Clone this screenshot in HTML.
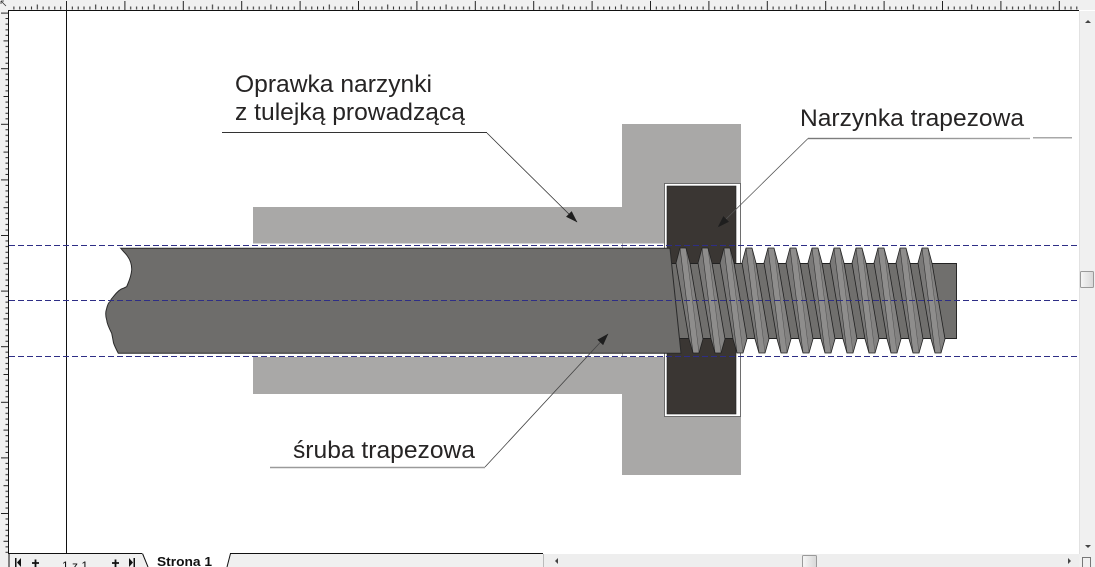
<!DOCTYPE html>
<html>
<head>
<meta charset="utf-8">
<style>
  html,body{margin:0;padding:0;background:#fff;}
  body{width:1095px;height:567px;overflow:hidden;}
  svg{display:block;}
</style>
</head>
<body>
<svg xmlns="http://www.w3.org/2000/svg" width="1095" height="567" viewBox="0 0 1095 567">
  <defs>
    <pattern id="hr" patternUnits="userSpaceOnUse" x="7.6" y="0" width="58.4" height="10">
      <path d="M0.5 1V10 M6.3 6.5V9.5 M12.2 6.5V9.5 M18 6.5V9.5 M23.9 6.5V9.5 M29.7 4.5V9.5 M35.5 6.5V9.5 M41.4 6.5V9.5 M47.2 6.5V9.5 M53.1 6.5V9.5" stroke="#222" stroke-width="1" fill="none"/>
    </pattern>
    <pattern id="vr" patternUnits="userSpaceOnUse" x="0" y="12.6" width="9" height="55.6">
      <path d="M1 0.5H9 M5.5 6H8.5 M5.5 11.6H8.5 M5.5 17.2H8.5 M5.5 22.7H8.5 M3.5 28.3H8.5 M5.5 33.9H8.5 M5.5 39.4H8.5 M5.5 45H8.5 M5.5 50.6H8.5" stroke="#222" stroke-width="1" fill="none"/>
    </pattern>
    <marker id="ah" viewBox="0 0 12 8" refX="11.5" refY="4" markerWidth="12" markerHeight="8" markerUnits="userSpaceOnUse" orient="auto">
      <path d="M0,0 L12,4 L0,8 z" fill="#1e1e1e"/>
    </marker>
    <linearGradient id="ul2" x1="0" y1="0" x2="1" y2="0">
      <stop offset="0" stop-color="#777"/>
      <stop offset="1" stop-color="#aaa"/>
    </linearGradient>
    <linearGradient id="thumb" x1="0" y1="0" x2="1" y2="0">
      <stop offset="0" stop-color="#f6f6f6"/>
      <stop offset="1" stop-color="#d8d8d8"/>
    </linearGradient>
    <g id="th">
      <polygon points="0,263 4,248 17,353 13,339" fill="#7a7978"/>
      <polygon points="4,248 10,248 23,353 17,353" fill="#8e8d8c"/>
      <polygon points="10,248 14,263 27,339 23,353" fill="#838281"/>
      <line x1="4" y1="248" x2="17" y2="353" stroke="#333" stroke-width="0.6"/>
      <line x1="10" y1="248" x2="23" y2="353" stroke="#444" stroke-width="0.4"/>
      <polygon points="0,263 4,248 10,248 14,263 27,339 23,353 17,353 13,339" fill="none" stroke="#222" stroke-width="0.8" stroke-linejoin="round"/>
    </g>
  </defs>

  <!-- background -->
  <rect x="0" y="0" width="1095" height="567" fill="#fff"/>

  <!-- top ruler -->
  <rect x="0" y="0" width="1095" height="10" fill="#f0f0f0"/>
  <rect x="9" y="0" width="1070" height="10" fill="url(#hr)"/>
  <line x1="0" y1="10.5" x2="1079" y2="10.5" stroke="#111" stroke-width="1"/>
  <!-- left ruler -->
  <rect x="0" y="0" width="9" height="567" fill="#f0f0f0"/>
  <rect x="0" y="11" width="9" height="542" fill="url(#vr)"/>
  <line x1="8.5" y1="10" x2="8.5" y2="567" stroke="#111" stroke-width="1"/>
  <path d="M1 1 L6 6 M1 1 H4 M1 1 V4" stroke="#333" stroke-width="0.8" fill="none"/>

  <!-- page border line -->
  <line x1="66.5" y1="11" x2="66.5" y2="554" stroke="#111" stroke-width="1"/>

  <!-- flange -->
  <rect x="622" y="124" width="119" height="351" fill="#a9a8a7"/>
  <!-- bore -->
  <rect x="622" y="243.5" width="42" height="113.5" fill="#fff"/>
  <line x1="622.5" y1="243.5" x2="622.5" y2="357" stroke="#999" stroke-width="0.8"/>
  <!-- bushings -->
  <rect x="253" y="207" width="369" height="36.5" fill="#a9a8a7"/>
  <rect x="253" y="357" width="369" height="37" fill="#a9a8a7"/>

  <!-- nut -->
  <rect x="664.5" y="183.5" width="76" height="233" fill="#fff" stroke="#555" stroke-width="0.8"/>
  <rect x="667" y="186" width="69" height="228" fill="#3a3633" stroke="#222" stroke-width="0.6"/>

  <!-- thread core (behind shaft end) -->
  <rect x="660" y="263" width="297" height="76" fill="#706f6d"/>
  <path d="M660 263.5 H956.5 V338.5 H660" fill="none" stroke="#222" stroke-width="0.9"/>

  <!-- plain shaft -->
  <path d="M120.7,248.3 L670,248.3 L681,353.3 L118.3,353.3
           C115,347 113.5,344 113.3,341.7 C112.5,337 112,335 111.7,333.3
           C109,328 107,324 106.7,320 C105.5,316 105.5,312 106.5,309
           C107.5,305 109,302 110,301.7 C111,299 112,298 113.3,296.7
           C117,292 120,289 123.3,288.3 C125,287.5 126,287 126.7,286.7
           C128,283 131,278 131.7,270 C132,262 128,256 124,252 Z"
        fill="#6e6d6b" stroke="#2a2a2a" stroke-width="1"/>

  <!-- threads -->
  <use href="#th" transform="translate(676,0)"/>
  <use href="#th" transform="translate(698,0)"/>
  <use href="#th" transform="translate(720,0)"/>
  <use href="#th" transform="translate(742,0)"/>
  <use href="#th" transform="translate(764,0)"/>
  <use href="#th" transform="translate(786,0)"/>
  <use href="#th" transform="translate(808,0)"/>
  <use href="#th" transform="translate(830,0)"/>
  <use href="#th" transform="translate(852,0)"/>
  <use href="#th" transform="translate(874,0)"/>
  <use href="#th" transform="translate(896,0)"/>
  <use href="#th" transform="translate(918,0)"/>

  <!-- dashed guide lines -->
  <g stroke="#2e2e86" stroke-width="1" stroke-dasharray="6 3" fill="none">
    <line x1="9" y1="245.5" x2="1078" y2="245.5"/>
    <line x1="9" y1="300.5" x2="1078" y2="300.5"/>
    <line x1="9" y1="356.5" x2="1078" y2="356.5"/>
  </g>

  <!-- labels -->
  <g font-family="'Liberation Sans', Arial, sans-serif" font-size="24.5" fill="#262424">
    <text x="235" y="92" textLength="197" lengthAdjust="spacingAndGlyphs">Oprawka narzynki</text>
    <text x="235" y="120" textLength="230" lengthAdjust="spacingAndGlyphs">z tulejką prowadzącą</text>
    <text x="800" y="126" textLength="224" lengthAdjust="spacingAndGlyphs">Narzynka trapezowa</text>
    <text x="293" y="458" textLength="182" lengthAdjust="spacingAndGlyphs">śruba trapezowa</text>
  </g>

  <!-- underlines & leaders -->
  <line x1="222" y1="132.5" x2="487" y2="132.5" stroke="#333" stroke-width="1"/>
  <line x1="487" y1="133" x2="577" y2="222" stroke="#333" stroke-width="0.8" marker-end="url(#ah)"/>

  <rect x="808" y="137.8" width="222" height="1.4" fill="url(#ul2)"/>
  <line x1="1033" y1="137.8" x2="1072" y2="137.8" stroke="#a8a8a8" stroke-width="1.5"/>
  <line x1="808" y1="138.5" x2="718" y2="227" stroke="#555" stroke-width="0.8" marker-end="url(#ah)"/>

  <line x1="270" y1="467.5" x2="485" y2="467.5" stroke="#9a9a9a" stroke-width="1.5"/>
  <line x1="485" y1="467" x2="608" y2="334" stroke="#444" stroke-width="0.8" marker-end="url(#ah)"/>

  <!-- vertical scrollbar -->
  <rect x="1079" y="11" width="16" height="543" fill="#f0f0f0"/>
  <line x1="1079.5" y1="11" x2="1079.5" y2="554" stroke="#e2e2e2" stroke-width="1"/>
  <path d="M1085 23 L1088 20 L1091 23 Z" fill="#444"/>
  <rect x="1080.5" y="271.5" width="13" height="16" fill="url(#thumb)" stroke="#9a9a9a" stroke-width="1" rx="1"/>
  <path d="M1085 545 L1088 548 L1091 545 Z" fill="#444"/>

  <!-- bottom bar -->
  <rect x="0" y="554" width="1095" height="13" fill="#f0f0f0"/>
  <line x1="9" y1="553.5" x2="142" y2="553.5" stroke="#111" stroke-width="1"/>
  <line x1="230" y1="553.5" x2="543" y2="553.5" stroke="#111" stroke-width="1"/>
  <polygon points="142.5,553.5 148,567 227,567 230.5,553.5" fill="#fff"/>
  <path d="M142.5 553.5 L148 567 M230.5 553.5 L227 567" stroke="#111" stroke-width="1" fill="none"/>
  <line x1="9" y1="554" x2="9" y2="567" stroke="#111" stroke-width="1"/>

  <!-- nav icons -->
  <rect x="15" y="558" width="1.5" height="9" fill="#111"/>
  <path d="M21 558 L17 562.5 L21 567 Z" fill="#111"/>
  <path d="M32 563 H39 M35.5 559.5 V567" stroke="#111" stroke-width="1.8"/>
  <text x="62" y="570" font-family="'Liberation Sans', Arial, sans-serif" font-size="12" fill="#111">1 z 1</text>
  <path d="M112 563 H119 M115.5 559.5 V567" stroke="#111" stroke-width="1.8"/>
  <path d="M129 558 L133 562.5 L129 567 Z" fill="#111"/>
  <rect x="133.5" y="558" width="1.5" height="9" fill="#111"/>
  <text x="157" y="566" font-family="'Liberation Sans', Arial, sans-serif" font-size="13" font-weight="bold" fill="#111" textLength="55" lengthAdjust="spacingAndGlyphs">Strona 1</text>

  <!-- horizontal scrollbar -->
  <line x1="543.5" y1="554" x2="543.5" y2="567" stroke="#bbb" stroke-width="1"/>
  <rect x="544" y="554" width="535" height="13" fill="#eeeeee"/>
  <path d="M558 558 L555 561 L558 564 Z" fill="#444"/>
  <rect x="802.5" y="555.5" width="14" height="12" fill="url(#thumb)" stroke="#9a9a9a" stroke-width="1" rx="1"/>
  <path d="M1068 558 L1071 561 L1068 564 Z" fill="#444"/>
  <rect x="1079" y="554" width="16" height="13" fill="#f0f0f0"/>
  <rect x="1082.5" y="557.5" width="8" height="10" fill="none" stroke="#777" stroke-width="1"/>
</svg>
</body>
</html>
